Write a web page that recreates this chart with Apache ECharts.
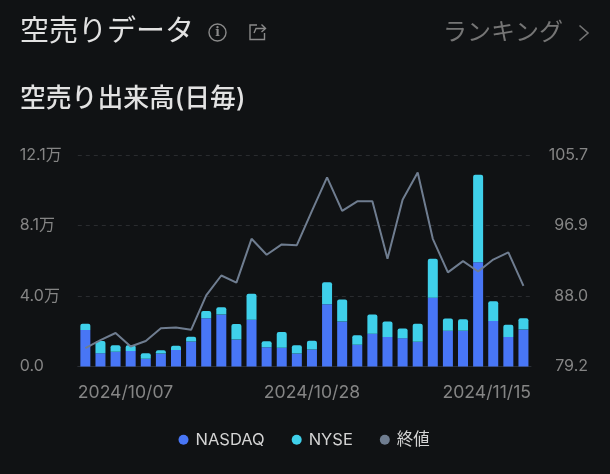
<!DOCTYPE html>
<html><head><meta charset="utf-8">
<style>html,body{margin:0;padding:0;background:#101214}#c{width:610px;height:474px}</style>
<script src="https://cdn.jsdelivr.net/npm/echarts@6/dist/echarts.min.js"></script>
</head><body><div id="c"></div>
<script>
const dates = ['10/07','10/08','10/09','10/10','10/11','10/14','10/15','10/16','10/17','10/18','10/21','10/22','10/23','10/24','10/25','10/28','10/29','10/30','10/31','11/01','11/04','11/05','11/06','11/07','11/08','11/11','11/12','11/13','11/14','11/15'];
const nasdaq = [2.09,.76,.84,.89,.44,.74,.95,1.43,2.76,2.97,1.54,2.68,1.10,1.07,.74,.97,3.56,2.57,1.24,1.88,1.69,1.62,1.41,3.94,2.05,2.04,5.97,2.61,1.69,2.11];
const nyse = [.36,.70,.38,.32,.32,.19,.23,.27,.42,.42,.89,1.48,.34,.91,.48,.51,1.26,1.26,.55,1.10,.88,.55,1.03,2.23,.70,.67,5.00,1.12,.70,.65];
const closePrice = [81.5,82.5,83.4,81.7,82.4,84.0,84.1,83.8,88.1,90.6,89.7,95.2,93.2,94.5,94.4,98.7,102.9,98.7,99.9,99.9,92.7,100.1,103.5,95.2,91.0,92.4,91.1,92.6,93.5,89.3];
const dateTicks = {0:'2024/10/07',15.5:'2024/10/28',30:'2024/11/15'};
const sans = 'Inter, "Noto Sans CJK JP", sans-serif';
const chart = echarts.init(document.getElementById('c'), null, {renderer:'canvas'});
chart.setOption({
  backgroundColor:'#101214',
  animation:false,
  title:[
    {text:'空売りデータ',left:15,top:13,textStyle:{color:'#e2e2e2',fontSize:29,fontWeight:400,fontFamily:sans}},
    {text:'空売り出来高(日毎)',left:15,top:81,textStyle:{color:'#e2e2e2',fontSize:25.8,fontWeight:500,fontFamily:sans}},
    {text:'ランキング',left:438,top:16,textStyle:{color:'#757575',fontSize:24,fontWeight:400,fontFamily:sans}}
  ],
  graphic:[
    {type:'circle',shape:{cx:217.5,cy:32.5,r:8.5},style:{fill:'none',stroke:'#8a8a8a',lineWidth:1.4}},
    {type:'text',style:{x:217.5,y:33,text:'i',fill:'#8a8a8a',font:'700 12px "DejaVu Serif"',align:'center',verticalAlign:'middle'}},
    {type:'polyline',shape:{points:[[257,25],[250,25],[250,39.5],[264.5,39.5],[264.5,33]]},style:{fill:'none',stroke:'#8a8a8a',lineWidth:1.4}},
    {type:'polyline',shape:{points:[[254,33],[256,28.5],[265,28.5]]},style:{fill:'none',stroke:'#8a8a8a',lineWidth:1.4}},
    {type:'polyline',shape:{points:[[261.5,24.5],[265.5,28.5],[261.5,32]]},style:{fill:'none',stroke:'#8a8a8a',lineWidth:1.4}},
    {type:'polyline',shape:{points:[[579.5,25.5],[588,33],[579.5,40.5]]},style:{fill:'none',stroke:'#757575',lineWidth:1.6}}
  ],
  legend:{
    data:['NASDAQ','NYSE','終値'],bottom:21,left:173.5,icon:'circle',
    itemWidth:10,itemHeight:10,itemGap:27,
    textStyle:{color:'#d4d4d4',fontSize:16.5,fontFamily:sans,padding:[0,0,0,2]}
  },
  grid:{left:77.8,right:79,top:155,bottom:107.5},
  xAxis:[
    {type:'category',data:dates,axisLine:{lineStyle:{color:'#2b2f35'}},axisTick:{show:false},axisLabel:{show:false},splitLine:{show:false}},
    {type:'value',min:0,max:30,position:'bottom',
      axisLine:{show:false},axisTick:{show:false},splitLine:{show:false},
      axisLabel:{customValues:[0,15.5,30],alignMinLabel:'left',alignMaxLabel:'right',margin:17,color:'#858585',fontSize:17.6,fontFamily:sans,
        formatter:v=>dateTicks[v]||''}}
  ],
  yAxis:[
    {type:'value',min:0,max:12.1,interval:12.1/3,
      axisLine:{show:false},axisTick:{show:false},
      splitLine:{lineStyle:{color:'#2a2c2f',type:[4,4],width:1}},
      axisLabel:{align:'left',margin:58,color:'#858585',fontSize:16,fontFamily:sans,
        formatter:v=>v===0?'0.0':v.toFixed(1)+'万'}},
    {type:'value',min:79.2,max:105.7,interval:26.5/3,position:'right',
      axisLine:{show:false},axisTick:{show:false},splitLine:{show:false},
      axisLabel:{align:'right',margin:57,color:'#858585',fontSize:16,fontFamily:sans,formatter:v=>v.toFixed(1)}}
  ],
  series:[
    {name:'NASDAQ',type:'bar',stack:'v',barWidth:10,data:nasdaq,itemStyle:{color:'#4876f6'}},
    {name:'NYSE',type:'bar',stack:'v',barWidth:10,data:nyse,itemStyle:{color:'#3fd0ea',borderRadius:[2,2,0,0]}},
    {name:'終値',type:'line',yAxisIndex:1,data:closePrice,symbol:'none',z:5,lineStyle:{color:'#6f7d90',width:2},itemStyle:{color:'#6f7d90'}}
  ]
});
</script></body></html>
